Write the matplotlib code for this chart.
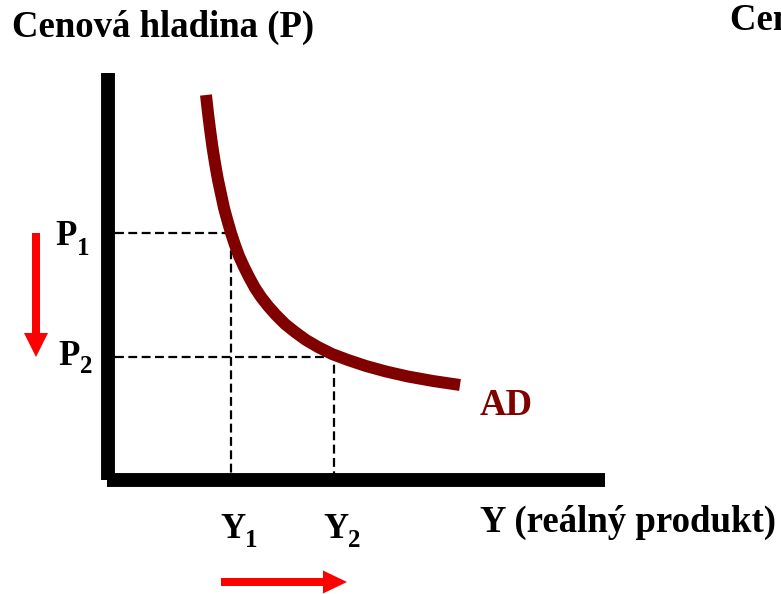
import matplotlib
matplotlib.use("Agg")
import matplotlib.pyplot as plt

ad_y = [98, 99, 100, 101, 102, 104, 106, 108, 110, 113, 116, 119, 123, 127, 131,
        136, 141, 147, 153, 160, 168, 177, 187, 198, 210, 224, 240, 258, 278,
        300, 325, 352]
ad_p = [385, 376, 367, 359, 351, 336, 323, 311, 300, 286, 272, 261, 247, 235, 224,
        213, 203, 192, 183, 174, 165, 156, 148, 140, 133, 126, 120, 114, 108.5,
        103.5, 99, 95]

# equilibrium levels
y_levels = [123, 226]
p_levels = [247, 123]
y_names = ["1", "2"]
p_names = ["1", "2"]

axis_top = 407
axis_right = 497

fig = plt.figure(figsize=(7.81, 5.94), dpi=100)
ax = fig.add_axes([0, 0, 1, 1])
ax.set_xlim(-108, 673)
ax.set_ylim(-114, 480)
ax.axis("off")

serif = "Liberation Serif"
dark_red = "#800000"

# axes of the diagram
ax.plot([0, 0], [0, axis_top], color="black", lw=10, solid_capstyle="butt")
ax.plot([-1, axis_right], [0, 0], color="black", lw=10, solid_capstyle="butt")

# dashed guides
for yv, pv in zip(y_levels, p_levels):
    ax.plot([7, yv, yv], [pv, pv, 0], color="black", lw=1.6,
            linestyle=(0, (4, 2)), zorder=2)

# AD curve
ax.plot(ad_y, ad_p, color=dark_red, lw=8.6, solid_capstyle="butt",
        solid_joinstyle="round", zorder=3)

# labels
ax.text(-96, 443, "Cenová hladina (P)", family=serif, weight="bold", fontsize=26.5)
ax.text(622, 450, "Cenová hladina (P)", family=serif, weight="bold", fontsize=26.5)
ax.text(372, -52, "Y (reálný produkt)", family=serif, weight="bold", fontsize=26.5)
ax.text(372, 65, "AD", family=serif, weight="bold", fontsize=26.5, color=dark_red)

p_pos = [(-53, 235, -31, 225), (-50, 115, -28, 107)]
for (x0, b0, x1, b1), name in zip(p_pos, p_names):
    ax.text(x0, b0, "P", family=serif, weight="bold", fontsize=25)
    ax.text(x1, b1, name, family=serif, weight="bold", fontsize=18)

for yv, name in zip(y_levels, y_names):
    ax.text(yv - 11, -58, "Y", family=serif, weight="bold", fontsize=25)
    ax.text(yv + 14, -67, name, family=serif, weight="bold", fontsize=18)

# red arrows showing the move along the curve
ax.arrow(-72, 247, 0, -124, width=8, head_width=24, head_length=24,
         length_includes_head=True, color="red", lw=0)
ax.arrow(113, -102, 126, 0, width=8, head_width=23, head_length=24,
         length_includes_head=True, color="red", lw=0)

fig.savefig("out.png", dpi=100)
